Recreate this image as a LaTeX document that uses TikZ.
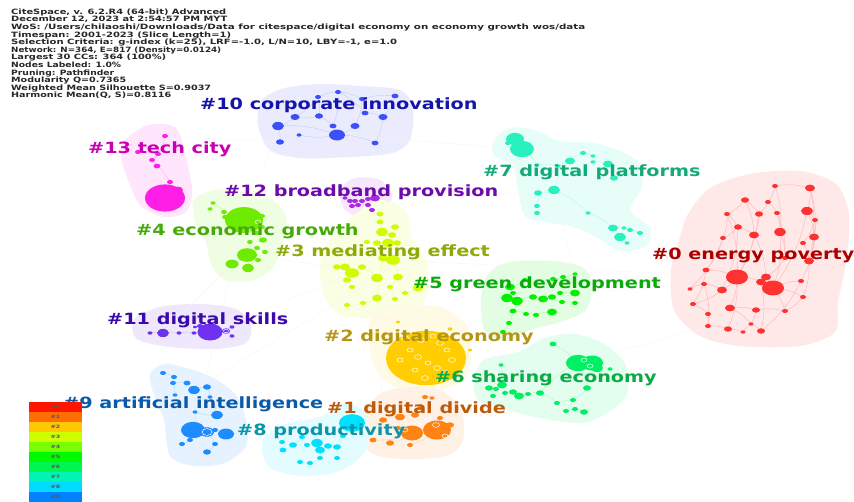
\documentclass[tikz,border=0pt]{standalone}
\usepackage{fontspec}
\setmainfont{DejaVu Sans}
\usepackage{graphicx}
\pgfdeclarelayer{paper}
\pgfdeclarelayer{hulls}
\pgfdeclarelayer{edges}
\pgfsetlayers{paper,hulls,edges,main}

% cluster colours (node fill / label text)
\definecolor{k0}{RGB}{255,50,50}    \definecolor{t0}{RGB}{170,0,0}
\definecolor{k1}{RGB}{255,130,20}   \definecolor{t1}{RGB}{190,90,10}
\definecolor{k2}{RGB}{255,205,0}    \definecolor{t2}{RGB}{180,150,20}
\definecolor{k3}{RGB}{210,250,0}    \definecolor{t3}{RGB}{140,170,10}
\definecolor{k4}{RGB}{110,235,0}    \definecolor{t4}{RGB}{70,170,10}
\definecolor{k5}{RGB}{0,240,0}      \definecolor{t5}{RGB}{10,170,10}
\definecolor{k6}{RGB}{0,240,100}    \definecolor{t6}{RGB}{10,170,70}
\definecolor{k7}{RGB}{40,240,190}   \definecolor{t7}{RGB}{20,170,120}
\definecolor{k8}{RGB}{0,225,255}    \definecolor{t8}{RGB}{10,150,170}
\definecolor{k9}{RGB}{30,140,255}   \definecolor{t9}{RGB}{10,90,170}
\definecolor{k10}{RGB}{60,80,250}   \definecolor{t10}{RGB}{20,20,170}
\definecolor{k11}{RGB}{110,50,240}  \definecolor{t11}{RGB}{60,10,170}
\definecolor{k12}{RGB}{170,40,230}  \definecolor{t12}{RGB}{110,10,170}
\definecolor{k13}{RGB}{255,30,230}  \definecolor{t13}{RGB}{200,0,180}

% legend colours
\definecolor{g0}{RGB}{255,20,0}   \definecolor{g1}{RGB}{255,110,0}
\definecolor{g2}{RGB}{255,200,0}  \definecolor{g3}{RGB}{205,255,0}
\definecolor{g4}{RGB}{120,255,0}  \definecolor{g5}{RGB}{0,250,0}
\definecolor{g6}{RGB}{0,245,80}   \definecolor{g7}{RGB}{0,245,180}
\definecolor{g8}{RGB}{0,220,255}  \definecolor{g9}{RGB}{0,130,255}

% a cluster: named points c<id>-<n>, each a flattened disc
\newcommand{\cluster}[3]{%
  \foreach \px/\py/\ps [count=\i] in {#3} {
    \coordinate (c#1-\i) at (\px,\py);
    \fill[#2] (\px,\py) ellipse [x radius=\ps pt, y radius=0.68*\ps pt];
  }}
% white citation rings drawn over large discs
\newcommand{\rings}[1]{%
  \foreach \px/\py/\ps in {#1} {
    \draw[white, line width=0.5pt] (\px,\py) ellipse [x radius=\ps pt, y radius=0.68*\ps pt];
  }}
% links inside a cluster
\newcommand{\links}[3]{%
  \begin{pgfonlayer}{edges}
  \foreach \a/\b in {#3} { \draw[#2] (c#1-\a) to[bend left=12] (c#1-\b); }
  \end{pgfonlayer}}
% horizontally widened text
\newcommand{\wide}[2]{\scalebox{#1}[1]{#2}}

\begin{document}
\begin{tikzpicture}[x=1pt,y=-1pt,
  hull/.style={fill=#1!11, draw=none},
  lbl/.style={anchor=base west, inner sep=0pt, text=#1,
              font=\fontsize{15.5}{16}\selectfont\bfseries},
  hdr/.style={anchor=base west, inner sep=0pt, text=black!85,
              font=\fontsize{7.3}{8}\selectfont\bfseries},
  leg/.style={inner sep=0pt, text=black!65, font=\fontsize{4.5}{5}\selectfont\bfseries},
  faint/.style={draw=black!4, line width=0.35pt},
]
\useasboundingbox (0,0) rectangle (854,501);
\begin{pgfonlayer}{paper}
\fill[white] (0,0) rectangle (854,501);
\end{pgfonlayer}

% ---------- cluster hulls ----------
\begin{pgfonlayer}{hulls}
\path[hull=k10] plot[smooth cycle] coordinates {(262,100) (285,88) (320,84) (360,86) (400,90) (413,108) (410,140) (392,153) (350,157) (300,158) (270,150) (258,125)};
\path[hull=k13] plot[smooth cycle] coordinates {(123,142) (148,125) (176,128) (186,158) (192,190) (186,212) (163,217) (140,205) (128,180) (121,158)};
\path[hull=k4] plot[smooth cycle] coordinates {(194,200) (215,190) (245,192) (272,200) (286,216) (283,242) (274,266) (254,280) (226,280) (212,266) (205,240) (195,222)};
\path[hull=k12] plot[smooth cycle] coordinates {(340,190) (355,178) (380,180) (392,195) (385,212) (365,218) (345,210)};
\path[hull=k3] plot[smooth cycle] coordinates {(330,240) (355,214) (380,200) (405,210) (412,238) (426,260) (428,290) (415,310) (380,318) (340,315) (324,295) (320,265)};
\path[hull=k7] plot[smooth cycle] coordinates {(494,140) (510,128) (535,130) (560,141) (600,144) (636,160) (642,186) (630,210) (650,228) (646,246) (620,251) (595,236) (570,226) (545,222) (525,216) (518,190) (513,166) (494,155)};
\path[hull=k0] plot[smooth cycle] coordinates {(688,214) (710,188) (750,174) (800,171) (836,184) (849,215) (846,262) (838,302) (835,332) (800,346) (740,346) (700,336) (674,310) (671,270) (679,240)};
\path[hull=k5] plot[smooth cycle] coordinates {(488,274) (510,262) (550,261) (582,267) (592,285) (586,310) (560,322) (530,330) (506,341) (485,331) (481,300)};
\path[hull=k6] plot[smooth cycle] coordinates {(484,360) (518,352) (545,338) (575,334) (606,345) (626,366) (626,396) (602,416) (580,423) (545,419) (510,411) (479,401) (474,380)};
\path[hull=k2] plot[smooth cycle] coordinates {(369,322) (395,307) (440,307) (466,325) (471,355) (463,381) (430,391) (395,386) (374,366)};
\path[hull=k1] plot[smooth cycle] coordinates {(358,420) (380,394) (410,387) (442,391) (461,410) (463,440) (446,456) (400,459) (368,451)};
\path[hull=k8] plot[smooth cycle] coordinates {(263,440) (285,424) (320,417) (345,403) (366,414) (366,450) (340,471) (300,476) (268,466)};
\path[hull=k9] plot[smooth cycle] coordinates {(150,374) (165,364) (190,369) (215,379) (236,395) (246,420) (246,446) (225,463) (195,466) (170,456) (164,420) (154,395)};
\path[hull=k11] plot[smooth cycle] coordinates {(134,320) (160,307) (200,304) (236,309) (251,325) (246,343) (215,349) (170,347) (137,339)};
\end{pgfonlayer}

% ---------- nodes ----------
\cluster{0}{k0}{775/186/3, 810/188/5, 745/200/4, 768/202/3, 807/211/6, 727/214/3, 759/214/4, 777/213/3, 815/220/3, 738/227/4, 780/232/6, 754/235/5, 814/237/5, 723/238/3, 803/243/3, 785/258/3, 809/261/5, 706/270/3.5, 737/277/11, 766/277/5, 761/282/5, 773/288/11, 801/281/3, 704/284/3, 722/290/5, 690/289/2.5, 803/297/3, 693/304/3, 730/308/5, 756/310/4, 785/311/3, 708/314/3, 708/326/3, 728/329/4, 743/332/2.5, 751/324/2.5, 761/331/4}
\links{0}{k0!35, line width=0.45pt}{1/2, 1/4, 2/5, 3/7, 4/8, 5/9, 6/10, 7/12, 8/11, 5/13, 10/14, 11/16, 12/19, 13/17, 15/17, 16/20, 19/21, 20/22, 21/22, 19/25, 18/19, 24/25, 22/23, 22/27, 19/29, 29/30, 30/31, 25/28, 28/32, 32/33, 33/34, 34/35, 35/36, 36/37, 29/36, 22/31, 12/20, 11/22, 7/19, 3/6, 14/18, 26/24, 13/23, 17/27, 2/13, 9/17, 19/34, 21/37, 6/14, 10/12, 3/12, 8/16, 4/7, 1/11, 2/17, 5/22, 6/19, 10/25, 14/26, 18/28, 24/33, 27/31, 23/37, 30/36, 9/15}

\cluster{1}{k1}{437/430/14, 412/433/11, 383/420/4, 400/417/5, 415/415/4, 420/408/3, 425/397/3, 432/398/2.5, 373/440/3.5, 390/443/4, 410/445/3, 440/418/3, 398/428/3, 450/425/4}
\links{1}{k1!35, line width=0.4pt}{1/2, 2/3, 3/4, 4/5, 5/6, 6/7, 7/8, 2/9, 2/10, 1/11, 1/12, 2/13, 1/14}
\rings{418/424/3, 428/419/3, 436/425/3.5, 405/430/3, 445/436/3}

\cluster{2}{k2}{426/358/40, 450/329/2.5, 398/322/2, 470/350/2}
\rings{405/338/3.5, 413/332/3, 421/340/3.5, 433/336/3, 440/343/3.5, 447/350/3, 452/360/3.5, 410/350/3, 418/357/3.5, 428/363/3, 437/368/3.5, 445/372/3, 415/370/3, 425/378/3.5, 400/360/3, 440/380/3}

\cluster{3}{k3}{380/214/3.5, 380/222/3.5, 395/227/4, 382/232/6, 392/235/4, 367/242/3, 377/243/4, 388/243/6, 397/243/4, 393/260/7, 383/258/5, 337/267/4, 345/267/5, 352/273/7, 362/267/4, 347/280/4, 377/278/6, 398/277/5, 352/287/3, 390/287/3, 418/288/5, 377/298/5, 363/303/3, 347/305/3, 395/299/3, 405/293/3}
\links{3}{k3!40, line width=0.4pt}{1/2, 2/4, 4/5, 3/5, 4/8, 6/7, 7/8, 8/9, 8/10, 10/11, 10/17, 12/13, 13/14, 14/15, 14/16, 16/19, 17/22, 18/20, 20/25, 22/23, 23/24, 21/26, 11/17, 15/17, 10/18}

\cluster{4}{k4}{210/209/2.5, 213/203/2.5, 224/212/3, 225/217/3, 244/220/19, 262/216/3, 262/227/3, 256/233/3.5, 263/240/4, 250/242/3, 257/248/3, 265/252/3, 247/255/10, 232/264/6.5, 248/268/6, 258/260/3}
\links{4}{k4!40, line width=0.4pt}{1/2, 2/3, 3/4, 4/5, 5/6, 6/7, 7/8, 8/9, 9/10, 10/11, 11/12, 11/13, 13/14, 13/15, 15/16}
\rings{258/222/3, 252/230/3, 263/234/3, 255/243/2.5}

\cluster{5}{k5}{575/274/2.5, 563/277/3, 553/279/3, 525/280/3, 510/287/5, 507/298/6, 517/301/6, 513/293/3, 533/297/4, 543/299/5, 552/297/4, 560/293/3, 562/302/3, 575/293/5, 575/303/3, 513/311/3.5, 526/314/3, 536/315/3, 552/312/5, 509/323/3, 503/332/3}
\links{5}{k5!35, line width=0.4pt}{1/2, 2/3, 3/4, 4/5, 5/8, 8/6, 6/7, 7/9, 9/10, 10/11, 11/12, 12/14, 13/15, 7/16, 16/17, 17/18, 18/19, 16/20, 20/21, 10/13}

\cluster{6}{k6}{553/344/3.5, 578/363/12, 592/363/11, 597/368/6, 610/369/2.5, 587/388/4, 501/365/2.5, 502/385/5, 489/388/4, 496/389/3, 493/396/3, 505/393/3, 513/392/4, 519/396/5, 528/394/3, 540/393/4, 557/403/3, 573/400/3, 566/411/3, 575/409/3, 584/412/4}
\links{6}{k6!35, line width=0.4pt}{1/2, 2/3, 3/4, 4/5, 2/6, 7/8, 8/9, 9/10, 10/11, 8/12, 12/13, 13/14, 14/15, 15/16, 16/2, 16/17, 17/18, 18/19, 19/20, 20/21, 6/18}
\rings{584/360/3, 590/366/3}

\cluster{7}{k7}{515/139/9, 508/143/3, 522/149/12, 570/161/5, 583/153/3, 593/156/2.5, 593/162/2.5, 608/164/5, 614/178/4, 537/165/2.5, 558/166/2.5, 554/190/6, 538/193/4, 537/206/3, 537/213/3, 588/213/2.5, 613/228/5, 624/228/2.5, 630/230/3, 640/233/3, 620/237/6, 627/243/2.5}
\links{7}{k7!35, line width=0.4pt}{1/3, 3/10, 10/11, 11/4, 4/5, 5/6, 6/7, 7/8, 8/9, 11/12, 12/13, 13/14, 14/15, 12/16, 16/17, 17/18, 18/19, 19/20, 17/21, 21/22}

\cluster{8}{k8}{352/423/13, 282/442/3, 283/450/3.5, 293/445/4, 302/437/3, 307/445/3, 317/443/6, 320/450/5, 320/458/3, 328/446/4, 337/447/4, 337/458/3, 300/462/3, 310/463/3, 343/436/3}
\links{8}{k8!35, line width=0.4pt}{1/15, 15/11, 11/10, 10/8, 8/7, 7/6, 6/5, 5/4, 4/3, 3/2, 8/9, 9/14, 14/13, 11/12}

\cluster{9}{k9}{163/373/3, 174/377/3, 173/383/3, 187/383/3.5, 194/390/6, 207/387/4, 210/397/2.5, 217/415/6, 195/412/2.5, 193/430/12, 207/432/7, 226/434/8, 215/430/3, 190/440/3, 182/444/3, 215/444/3, 207/452/4, 175/395/2.5}
\links{9}{k9!35, line width=0.4pt}{1/2, 2/3, 3/4, 4/5, 5/6, 6/7, 7/8, 8/9, 9/10, 10/11, 11/12, 11/13, 10/14, 14/15, 11/16, 16/17, 3/18}
\rings{207/432/5}

\cluster{10}{k10}{318/97/3, 338/92/3, 362/99/3, 395/96/3.5, 295/117/4.5, 319/116/4, 365/113/3.5, 383/117/4.5, 278/126/6, 333/126/3.5, 355/126/4.5, 299/135/2.5, 337/135/8, 280/142/4, 375/143/3.5}
\links{10}{k10!30, line width=0.4pt}{1/2, 2/3, 3/4, 1/5, 5/9, 9/14, 6/10, 10/13, 11/13, 13/12, 7/8, 8/15, 2/7, 6/5, 4/8, 3/11, 1/6, 9/13, 13/15, 2/10}

\cluster{11}{k11}{150/333/2.5, 163/333/6, 179/333/2.5, 194/333/2.5, 210/332/12.5, 200/326/3, 195/327/2, 226/331/4, 232/327/2.5, 232/336/2.5}
\links{11}{k11!35, line width=0.4pt}{1/2, 2/3, 3/4, 4/5, 5/6, 6/7, 5/8, 8/9, 8/10}
\rings{226/331/2.5}

\cluster{12}{k12}{350/201/3, 355/201/3, 362/201/3, 368/199/3, 375/198/5, 352/206/3, 358/205/3, 368/205/3, 372/210/3, 345/198/2.5}
\links{12}{k12!35, line width=0.4pt}{1/2, 2/3, 3/4, 4/5, 1/6, 6/7, 7/8, 8/9, 10/1}

\cluster{13}{k13}{165/136/3, 138/152/3, 158/154/3, 152/160/3, 157/166/3.5, 170/182/3, 165/198/20, 178/190/5, 175/199/3.5}
\links{13}{k13!35, line width=0.4pt}{1/3, 3/4, 4/5, 5/6, 6/7, 7/8, 2/3}

% ---------- faint links between clusters ----------
\begin{pgfonlayer}{hulls}
\foreach \a/\b in {3-10/0-19, 4-5/9-10, 2-1/5-6, 3-14/11-5, 10-13/7-3, 2-1/8-1, 3-4/12-5, 4-13/3-12, 3-21/5-5, 2-1/6-8, 1-1/6-9, 4-14/11-2, 3-24/2-3, 10-14/13-1, 12-9/3-1, 7-12/5-1, 5-14/0-24, 3-17/9-5, 4-5/10-9, 2-1/1-7, 8-2/9-12, 3-22/1-3, 6-2/0-33, 12-5/7-13}
  { \draw[faint] (c\a) -- (c\b); }
\end{pgfonlayer}

% ---------- cluster labels ----------
\node[lbl=t10] (l10) at (200,109) {\wide{1.24}{\#10 corporate innovation}};
\node[lbl=t13] (l13) at (88,153)  {\wide{1.24}{\#13 tech city}};
\node[lbl=t7]  (l7)  at (483,176) {\wide{1.24}{\#7 digital platforms}};
\node[lbl=t12] (l12) at (224,196) {\wide{1.24}{\#12 broadband provision}};
\node[lbl=t4]  (l4)  at (136,235) {\wide{1.24}{\#4 economic growth}};
\node[lbl=t3]  (l3)  at (275,256) {\wide{1.24}{\#3 mediating effect}};
\node[lbl=t0]  (l0)  at (652,259) {\wide{1.24}{\#0 energy poverty}};
\node[lbl=t5]  (l5)  at (413,288) {\wide{1.24}{\#5 green development}};
\node[lbl=t11] (l11) at (107,324) {\wide{1.24}{\#11 digital skills}};
\node[lbl=t2]  (l2)  at (324,341) {\wide{1.24}{\#2 digital economy}};
\node[lbl=t6]  (l6)  at (435,382) {\wide{1.24}{\#6 sharing economy}};
\node[lbl=t9]  (l9)  at (63,408)  {\wide{1.24}{\#9 artificial intelligence}};
\node[lbl=t1]  (l1)  at (327,413) {\wide{1.24}{\#1 digital divide}};
\node[lbl=t8]  (l8)  at (237,435) {\wide{1.24}{\#8 productivity}};

% ---------- header (each line stretched to its set width) ----------
\foreach \w/\t [count=\i] in {
  215/{CiteSpace, v. 6.2.R4 (64-bit) Advanced},
  216/{December 12, 2023 at 2:54:57 PM MYT},
  574/{WoS: /Users/chilaoshi/Downloads/Data for citespace/digital economy on economy growth wos/data},
  220/{Timespan: 2001-2023 (Slice Length=1)},
  386/{Selection Criteria: g-index (k=25), LRF=-1.0, L/N=10, LBY=-1, e=1.0},
  210/{Network: N=364, E=817 (Density=0.0124)},
  155/{Largest 30 CCs: 364 (100\%)},
  110/{Nodes Labeled: 1.0\%},
  103/{Pruning: Pathfinder},
  115/{Modularity Q=0.7365},
  200/{Weighted Mean Silhouette S=0.9037},
  160/{Harmonic Mean(Q, S)=0.8116}}
  { \node[hdr] (h\i) at (11,{14.2+7.6*(\i-1)}) {\resizebox{\w pt}{\height}{\t}}; }

% ---------- colour legend ----------
\foreach \k in {0,...,9} {
  \fill[g\k] (29,{402+10*\k}) rectangle (82,{412+10*\k});
  \node[leg] (lg\k) at (55.5,{407+10*\k}) {\wide{1.4}{\#\k}};
}
\end{tikzpicture}
\end{document}
